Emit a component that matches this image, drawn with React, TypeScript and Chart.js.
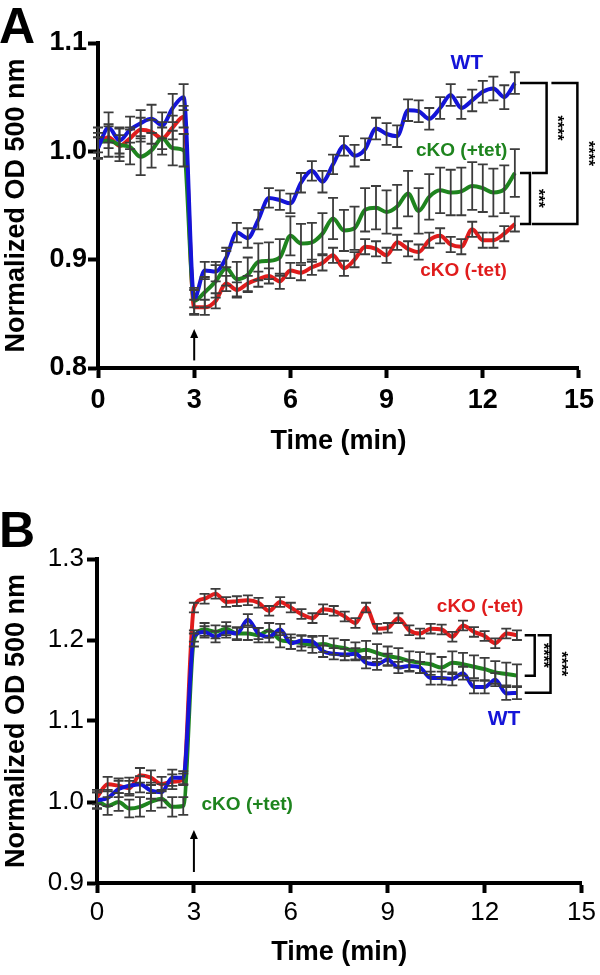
import React, { useEffect, useRef } from 'react';
import { Chart, registerables } from 'chart.js';

Chart.register(...registerables);

const FONT = "'Liberation Sans', Arial, Helvetica, sans-serif";

// Time (min), 20 s sampling
const TIME = [0, 0.33, 0.67, 1, 1.33, 1.67, 2, 2.33, 2.67,
  3, 3.33, 3.67, 4, 4.33, 4.67, 5, 5.33, 5.67, 6, 6.33, 6.67, 7, 7.33, 7.67, 8, 8.33, 8.67,
  9, 9.33, 9.67, 10, 10.33, 10.67, 11, 11.33, 11.67, 12, 12.33, 12.67, 13];

const X_TICKS = [0, 3, 6, 9, 12, 15];
const A_Y_TICKS = [0.8, 0.9, 1.0, 1.1];
const B_Y_TICKS = [0.9, 1.0, 1.1, 1.2, 1.3];

// Panel A
const A_WT = [1.003, 1.022, 1.010, 1.020, 1.026, 1.030, 1.024, 1.040, 1.050,
  0.864, 0.890, 0.889, 0.902, 0.925, 0.920, 0.937, 0.957, 0.955, 0.952, 0.971, 0.982, 0.972, 0.988, 1.005, 0.996, 1.002, 1.021,
  1.016, 1.014, 1.038, 1.037, 1.030, 1.040, 1.052, 1.040, 1.047, 1.055, 1.058, 1.050, 1.063];
const A_TET_PLUS = [1.008, 1.010, 1.006, 1.004, 0.995, 1.001, 1.012, 1.003, 1.001,
  0.862, 0.870, 0.880, 0.892, 0.882, 0.886, 0.898, 0.899, 0.902, 0.922, 0.915, 0.916, 0.924, 0.938, 0.927, 0.929, 0.946, 0.948,
  0.944, 0.949, 0.961, 0.945, 0.958, 0.964, 0.962, 0.963, 0.968, 0.966, 0.962, 0.965, 0.980];
const A_TET_MINUS = [1.008, 1.013, 1.005, 1.012, 1.020, 1.018, 1.012, 1.022, 1.032,
  0.856, 0.856, 0.862, 0.878, 0.872, 0.878, 0.882, 0.885, 0.880, 0.890, 0.888, 0.893, 0.897, 0.904, 0.892, 0.900, 0.912, 0.910,
  0.904, 0.916, 0.910, 0.907, 0.918, 0.922, 0.914, 0.912, 0.928, 0.918, 0.918, 0.924, 0.933];

const A_WT_ERR = [0.010, 0.014, 0.012, 0.012, 0.012, 0.013, 0.012, 0.013, 0.012,
  0.008, 0.008, 0.009, 0.009, 0.009, 0.009, 0.009, 0.009, 0.009, 0.009, 0.009, 0.009, 0.010, 0.009, 0.009, 0.010, 0.010, 0.010,
  0.010, 0.010, 0.010, 0.010, 0.010, 0.010, 0.010, 0.010, 0.010, 0.010, 0.011, 0.011, 0.010];
const A_TET_PLUS_ERR = [0.014, 0.015, 0.015, 0.016, 0.017, 0.016, 0.015, 0.016, 0.015,
  0.012, 0.014, 0.015, 0.016, 0.016, 0.016, 0.017, 0.017, 0.017, 0.018, 0.018, 0.018, 0.019, 0.019, 0.019, 0.020, 0.020, 0.020,
  0.020, 0.020, 0.021, 0.021, 0.021, 0.021, 0.021, 0.022, 0.022, 0.022, 0.022, 0.022, 0.022];
const A_TET_MINUS_ERR = [0.009, 0.010, 0.010, 0.010, 0.011, 0.011, 0.010, 0.011, 0.010,
  0.007, 0.007, 0.007, 0.007, 0.007, 0.007, 0.007, 0.007, 0.007, 0.007, 0.007, 0.007, 0.007, 0.007, 0.007, 0.007, 0.007, 0.007,
  0.007, 0.007, 0.007, 0.007, 0.007, 0.007, 0.007, 0.007, 0.007, 0.007, 0.007, 0.007, 0.007];

// Panel B
const B_WT = [1.002, 1.005, 1.016, 1.020, 1.022, 1.014, 1.012, 1.030, 1.030,
  1.205, 1.210, 1.204, 1.210, 1.208, 1.225, 1.208, 1.204, 1.213, 1.196, 1.199, 1.198, 1.186, 1.183, 1.182, 1.183, 1.172, 1.170,
  1.176, 1.166, 1.168, 1.166, 1.153, 1.153, 1.152, 1.159, 1.142, 1.142, 1.151, 1.134, 1.135];
const B_TET_PLUS = [1.002, 0.995, 1.000, 0.992, 0.994, 1.000, 1.004, 0.994, 0.995,
  1.200, 1.213, 1.210, 1.214, 1.208, 1.208, 1.206, 1.212, 1.200, 1.198, 1.196, 1.194, 1.195, 1.192, 1.190, 1.186, 1.188, 1.184,
  1.180, 1.178, 1.174, 1.172, 1.170, 1.166, 1.172, 1.170, 1.167, 1.164, 1.160, 1.158, 1.156];
const B_TET_MINUS = [1.006, 1.022, 1.020, 1.017, 1.033, 1.030, 1.022, 1.025, 1.028,
  1.240, 1.251, 1.257, 1.247, 1.248, 1.249, 1.246, 1.236, 1.247, 1.240, 1.232, 1.227, 1.238, 1.236, 1.229, 1.221, 1.240, 1.214,
  1.215, 1.227, 1.212, 1.208, 1.214, 1.213, 1.204, 1.218, 1.210, 1.205, 1.196, 1.208, 1.206];

const B_WT_ERR = [0.010, 0.010, 0.010, 0.010, 0.010, 0.010, 0.010, 0.010, 0.008,
  0.007, 0.007, 0.007, 0.007, 0.007, 0.007, 0.007, 0.007, 0.007, 0.007, 0.007, 0.007, 0.007, 0.007, 0.007, 0.007, 0.007, 0.007,
  0.007, 0.007, 0.007, 0.007, 0.008, 0.008, 0.008, 0.008, 0.008, 0.008, 0.008, 0.008, 0.008];
const B_TET_PLUS_ERR = [0.010, 0.011, 0.011, 0.011, 0.012, 0.011, 0.011, 0.012, 0.011,
  0.008, 0.008, 0.008, 0.008, 0.008, 0.008, 0.009, 0.009, 0.009, 0.009, 0.009, 0.010, 0.010, 0.010, 0.010, 0.011, 0.011, 0.011,
  0.012, 0.012, 0.012, 0.013, 0.013, 0.013, 0.014, 0.014, 0.014, 0.014, 0.014, 0.014, 0.014];
const B_TET_MINUS_ERR = [0.009, 0.009, 0.009, 0.009, 0.009, 0.009, 0.009, 0.009, 0.007,
  0.006, 0.006, 0.006, 0.006, 0.006, 0.006, 0.006, 0.006, 0.006, 0.006, 0.006, 0.006, 0.006, 0.006, 0.006, 0.006, 0.006, 0.006,
  0.006, 0.006, 0.006, 0.006, 0.006, 0.006, 0.006, 0.006, 0.006, 0.006, 0.006, 0.006, 0.006];

const BLUE = '#1414d8';
const GREEN = '#1e841e';
const RED = '#e01c1c';
const ERR = '#3c3c3c';

type Label = { text: string; color: string; x: number; y: number };
type Bracket = { xs: number; xv: number; xb: number; top: number; bot: number; stars: string; sx: number };

type PanelSpec = {
  letter: string;
  height: number;
  yMin: number;
  yMax: number;
  yTicks: number[];
  padding: { top: number; right: number; left: number; bottom: number };
  yW: number;
  xH: number;
  tickBold: boolean;
  tickSize: number;
  xTickPad: number;
  yTickPad: number;
  titlePadBottom: number;
  series: { values: number[]; errs: number[]; color: string }[];
  labels: Label[];
  brackets: Bracket[];
  arrow: { x: number; y0: number; y1: number };
  letterY: number;
};

const last = (a: number[]) => a[a.length - 1];

const PANEL_A: PanelSpec = {
  letter: 'A',
  height: 480,
  yMin: 0.8,
  yMax: 1.1,
  yTicks: A_Y_TICKS,
  padding: { top: 43, right: 17, left: 0, bottom: 0 },
  yW: 98,
  xH: 112,
  tickBold: true,
  tickSize: 27,
  xTickPad: 6,
  yTickPad: 1,
  titlePadBottom: 22,
  series: [
    { values: A_WT, errs: A_WT_ERR, color: BLUE },
    { values: A_TET_PLUS, errs: A_TET_PLUS_ERR, color: GREEN },
    { values: A_TET_MINUS, errs: A_TET_MINUS_ERR, color: RED },
  ],
  labels: [
    { text: 'WT', color: BLUE, x: 11.5, y: 1.0815 },
    { text: 'cKO (+tet)', color: GREEN, x: 11.34, y: 1.0003 },
    { text: 'cKO (-tet)', color: RED, x: 11.4, y: 0.8895 },
  ],
  brackets: [
    { xs: 13.16, xv: 13.99, xb: 13.53, top: last(A_WT), bot: last(A_TET_PLUS), stars: '****', sx: 14.3 },
    { xs: 13.16, xv: 13.47, xb: 13.16, top: last(A_TET_PLUS), bot: last(A_TET_MINUS), stars: '***', sx: 13.71 },
    { xs: 14.14, xv: 14.95, xb: 13.53, top: last(A_WT), bot: last(A_TET_MINUS), stars: '****', sx: 15.25 },
  ],
  arrow: { x: 3, y0: 0.807, y1: 0.836 },
  letterY: 4,
};

const PANEL_B: PanelSpec = {
  letter: 'B',
  height: 495,
  yMin: 0.9,
  yMax: 1.3,
  yTicks: B_Y_TICKS,
  padding: { top: 79, right: 16, left: 0, bottom: 0 },
  yW: 97,
  xH: 92,
  tickBold: false,
  tickSize: 26,
  xTickPad: 4,
  yTickPad: 3,
  titlePadBottom: 6,
  series: [
    { values: B_WT, errs: B_WT_ERR, color: BLUE },
    { values: B_TET_PLUS, errs: B_TET_PLUS_ERR, color: GREEN },
    { values: B_TET_MINUS, errs: B_TET_MINUS_ERR, color: RED },
  ],
  labels: [
    { text: 'cKO (-tet)', color: RED, x: 11.86, y: 1.2407 },
    { text: 'WT', color: BLUE, x: 12.6, y: 1.1025 },
    { text: 'cKO (+tet)', color: GREEN, x: 4.65, y: 0.9963 },
  ],
  brackets: [
    { xs: 13.24, xv: 13.55, xb: 13.24, top: last(B_TET_MINUS), bot: last(B_TET_PLUS), stars: '****', sx: 13.8 },
    { xs: 13.64, xv: 14.04, xb: 13.24, top: last(B_TET_MINUS), bot: last(B_WT), stars: '****', sx: 14.35 },
  ],
  arrow: { x: 3, y0: 0.9136, y1: 0.9654 },
  letterY: 28,
};

function overlayPlugin(spec: PanelSpec) {
  return {
    id: 'overlay' + spec.letter,
    afterDatasetsDraw(chart: any) {
      const ctx: CanvasRenderingContext2D = chart.ctx;
      const xs = chart.scales.x;
      const ys = chart.scales.y;
      ctx.save();
      // error bars
      ctx.strokeStyle = ERR;
      ctx.lineWidth = 1.8;
      spec.series.forEach((s) => {
        s.values.forEach((v, i) => {
          const px = xs.getPixelForValue(TIME[i]);
          const yTop = ys.getPixelForValue(v + s.errs[i]);
          const yBot = ys.getPixelForValue(v - s.errs[i]);
          ctx.beginPath();
          ctx.moveTo(px, yTop);
          ctx.lineTo(px, yBot);
          ctx.moveTo(px - 5, yTop);
          ctx.lineTo(px + 5, yTop);
          ctx.moveTo(px - 5, yBot);
          ctx.lineTo(px + 5, yBot);
          ctx.stroke();
        });
      });
      // series labels
      ctx.textAlign = 'center';
      ctx.textBaseline = 'middle';
      spec.labels.forEach((l) => {
        ctx.fillStyle = l.color;
        ctx.font = l.text === 'WT' ? `bold 21px ${FONT}` : `bold 19px ${FONT}`;
        ctx.fillText(l.text, xs.getPixelForValue(l.x), ys.getPixelForValue(l.y));
      });
      // brackets
      ctx.strokeStyle = '#000';
      ctx.fillStyle = '#000';
      ctx.lineWidth = 2.5;
      spec.brackets.forEach((b) => {
        const yT = ys.getPixelForValue(b.top);
        const yB = ys.getPixelForValue(b.bot);
        ctx.beginPath();
        ctx.moveTo(xs.getPixelForValue(b.xs), yT);
        ctx.lineTo(xs.getPixelForValue(b.xv), yT);
        ctx.lineTo(xs.getPixelForValue(b.xv), yB);
        ctx.lineTo(xs.getPixelForValue(b.xb), yB);
        ctx.stroke();
        ctx.save();
        ctx.translate(xs.getPixelForValue(b.sx), (yT + yB) / 2);
        ctx.rotate(Math.PI / 2);
        ctx.font = `bold 16px ${FONT}`;
        ctx.textAlign = 'center';
        ctx.textBaseline = 'middle';
        ctx.fillText(b.stars, 0, 0);
        ctx.restore();
      });
      // arrow
      const ax = xs.getPixelForValue(spec.arrow.x);
      const a0 = ys.getPixelForValue(spec.arrow.y0);
      const a1 = ys.getPixelForValue(spec.arrow.y1);
      ctx.lineWidth = 2;
      ctx.beginPath();
      ctx.moveTo(ax, a0);
      ctx.lineTo(ax, a1 + 6);
      ctx.stroke();
      ctx.beginPath();
      ctx.moveTo(ax, a1);
      ctx.lineTo(ax - 4, a1 + 9);
      ctx.lineTo(ax + 4, a1 + 9);
      ctx.closePath();
      ctx.fill();
      // panel letter
      ctx.font = `bold 50px ${FONT}`;
      ctx.textAlign = 'left';
      ctx.textBaseline = 'top';
      ctx.fillText(spec.letter, -1, spec.letterY);
      ctx.restore();
    },
  };
}

function buildConfig(spec: PanelSpec): any {
  const tickFont = { family: FONT, size: spec.tickSize, weight: spec.tickBold ? 'bold' : 'normal' };
  const titleFont = { family: FONT, size: 27, weight: 'bold' };
  const gridOpts = {
    display: true,
    drawOnChartArea: false,
    drawTicks: true,
    tickLength: 10,
    tickWidth: 4,
    tickColor: '#000',
    color: '#000',
  };
  return {
    type: 'line',
    data: {
      datasets: spec.series.map((s) => ({
        data: s.values.map((v, i) => ({ x: TIME[i], y: v })),
        borderColor: s.color,
        backgroundColor: s.color,
        borderWidth: 4,
        pointRadius: 0,
        cubicInterpolationMode: 'monotone',
        fill: false,
      })),
    },
    options: {
      responsive: false,
      animation: false,
      devicePixelRatio: 1,
      layout: { padding: spec.padding },
      plugins: { legend: { display: false }, tooltip: { enabled: false } },
      scales: {
        x: {
          type: 'linear',
          min: 0,
          max: 15,
          afterBuildTicks: (s: any) => { s.ticks = X_TICKS.map((v) => ({ value: v })); },
          afterFit: (s: any) => { s.height = spec.xH; },
          ticks: { color: '#000', font: tickFont, padding: spec.xTickPad, autoSkip: false, maxRotation: 0 },
          grid: gridOpts,
          border: { display: true, color: '#000', width: 4 },
          title: { display: true, text: 'Time (min)', color: '#000', font: titleFont, padding: { top: 0, bottom: spec.titlePadBottom } },
        },
        y: {
          type: 'linear',
          min: spec.yMin,
          max: spec.yMax,
          afterBuildTicks: (s: any) => { s.ticks = spec.yTicks.map((v) => ({ value: v })); },
          afterFit: (s: any) => { s.width = spec.yW; },
          ticks: { color: '#000', font: tickFont, padding: spec.yTickPad, callback: (v: number) => Number(v).toFixed(1) },
          grid: gridOpts,
          border: { display: true, color: '#000', width: 4 },
          title: { display: true, text: 'Normalized OD 500 nm', color: '#000', font: titleFont, padding: { top: 0, bottom: 0 } },
        },
      },
    },
    plugins: [overlayPlugin(spec)],
  };
}

function Panel({ spec }: { spec: PanelSpec }) {
  const ref = useRef<HTMLCanvasElement>(null);
  useEffect(() => {
    const chart = new Chart(ref.current as HTMLCanvasElement, buildConfig(spec));
    return () => chart.destroy();
  }, [spec]);
  return (
    <canvas
      ref={ref}
      width={600}
      height={spec.height}
      style={{ display: 'block', width: 600, height: spec.height }}
    />
  );
}

export default function App() {
  useEffect(() => {
    document.body.style.margin = '0';
  }, []);
  return (
    <div style={{ width: 600, height: 975, background: '#fff' }}>
      <Panel spec={PANEL_A} />
      <Panel spec={PANEL_B} />
    </div>
  );
}
